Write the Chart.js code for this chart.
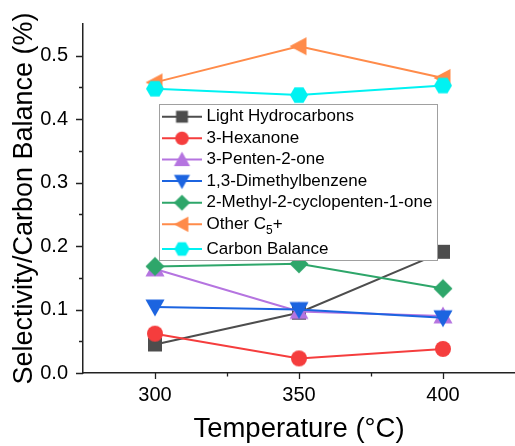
<!DOCTYPE html>
<html><head><meta charset="utf-8">
<script src="https://cdn.jsdelivr.net/npm/chart.js@4/dist/chart.umd.min.js"></script>
<style>html,body{margin:0;padding:0;background:#fff;}#wrap{width:515px;height:446px;position:relative;}</style>
</head><body><div id="wrap"><canvas id="c" width="515" height="446"></canvas></div>
<script>
// ---- data ----
const temperatures = [300, 350, 400];
const seriesNames = ['Light Hydrocarbons', '3-Hexanone', '3-Penten-2-one', '1,3-Dimethylbenzene',
  '2-Methyl-2-cyclopenten-1-one', 'Other C5+', 'Carbon Balance'];
const lightHydrocarbons = [0.045, 0.095, 0.191];
const hexanone = [0.062, 0.023, 0.038];
const pentenone = [0.164, 0.097, 0.090];
const dimethylbenzene = [0.104, 0.100, 0.087];
const methylcyclopentenone = [0.168, 0.172, 0.133];
const otherC5 = [0.458, 0.515, 0.465];
const carbonBalance = [0.448, 0.438, 0.453];
const xMajorTicks = [300, 350, 400];
const xMinorTicks = [325, 375];
const yMajorTicks = [0, 0.1, 0.2, 0.3, 0.4, 0.5];
const yMinorTicks = [0.05, 0.15, 0.25, 0.35, 0.45];

// ---- styles ----
const FONT = '"Liberation Sans", Arial, sans-serif';
const colors = ['#4d4d4d', '#f53d3d', '#b574e0', '#1c64e0', '#2ea66a', '#ff8b4a', '#00f2f2'];
const shapes = ['square', 'circle', 'triUp', 'triDown', 'diamond', 'triLeft', 'hexagon'];

function makeMarker(shape, color, scale) {
  const s = scale || 1;
  const size = Math.ceil(24 * s);
  const cv = document.createElement('canvas');
  cv.width = size; cv.height = size;
  const g = cv.getContext('2d');
  const c = size / 2;
  g.fillStyle = color;
  g.beginPath();
  if (shape === 'square') {
    const h = 7 * s; g.rect(c - h, c - h, 2 * h, 2 * h);
  } else if (shape === 'circle') {
    g.arc(c, c, 8 * s, 0, Math.PI * 2);
  } else if (shape === 'triUp') {
    const w = 9.5 * s, h = 8.5 * s;
    g.moveTo(c, c - h - 1 * s); g.lineTo(c + w, c + h - 1 * s); g.lineTo(c - w, c + h - 1 * s);
  } else if (shape === 'triDown') {
    const w = 9.5 * s, h = 8.5 * s;
    g.moveTo(c, c + h + 1 * s); g.lineTo(c + w, c - h + 1 * s); g.lineTo(c - w, c - h + 1 * s);
  } else if (shape === 'diamond') {
    const h = 9.5 * s;
    g.moveTo(c, c - h); g.lineTo(c + h, c); g.lineTo(c, c + h); g.lineTo(c - h, c);
  } else if (shape === 'triLeft') {
    const w = 8.5 * s, h = 9 * s;
    g.moveTo(c - w - 1 * s, c); g.lineTo(c + w - 1 * s, c - h); g.lineTo(c + w - 1 * s, c + h);
  } else if (shape === 'hexagon') {
    const r = 9 * s;
    for (let k = 0; k < 6; k++) {
      const a = Math.PI / 3 * k;
      const px = c + r * Math.cos(a), py = c + r * Math.sin(a);
      if (k === 0) g.moveTo(px, py); else g.lineTo(px, py);
    }
  }
  g.closePath();
  g.fill();
  return cv;
}

const seriesValues = [lightHydrocarbons, hexanone, pentenone, dimethylbenzene, methylcyclopentenone, otherC5, carbonBalance];

const datasets = seriesValues.map((vals, i) => ({
  label: seriesNames[i],
  data: temperatures.map((t, j) => ({ x: t, y: vals[j] })),
  borderColor: colors[i],
  backgroundColor: colors[i],
  borderWidth: 2,
  pointStyle: makeMarker(shapes[i], colors[i], 1),
  legendMarker: makeMarker(shapes[i], colors[i], 0.85),
  pointRadius: 9,
  pointHoverRadius: 9,
  order: 20 - i,
  clip: false,
  tension: 0
}));

const tickMarks = {
  id: 'tickMarks',
  afterDraw(chart) {
    const ctx = chart.ctx;
    const xs = chart.scales.x, ys = chart.scales.y;
    const ca = chart.chartArea;
    ctx.save();
    ctx.strokeStyle = '#222';
    ctx.lineWidth = 1.3;
    ctx.beginPath();
    xMajorTicks.forEach(v => { const p = Math.round(xs.getPixelForValue(v)) + 0.5; ctx.moveTo(p, ca.bottom); ctx.lineTo(p, ca.bottom + 6); });
    xMinorTicks.forEach(v => { const p = Math.round(xs.getPixelForValue(v)) + 0.5; ctx.moveTo(p, ca.bottom); ctx.lineTo(p, ca.bottom + 3.5); });
    yMajorTicks.forEach(v => { const p = Math.round(ys.getPixelForValue(v)) + 0.5; ctx.moveTo(ca.left, p); ctx.lineTo(ca.left - 7, p); });
    yMinorTicks.forEach(v => { const p = Math.round(ys.getPixelForValue(v)) + 0.5; ctx.moveTo(ca.left, p); ctx.lineTo(ca.left - 4, p); });
    ctx.stroke();
    ctx.restore();
  }
};

const boxLegend = {
  id: 'boxLegend',
  afterDatasetsDraw(chart) {
    const ctx = chart.ctx;
    const bx = 159.5, by = 104.5, bw = 278, bh = 156;
    ctx.save();
    ctx.fillStyle = '#fff';
    ctx.fillRect(bx, by, bw, bh);
    ctx.strokeStyle = '#a0a0a0';
    ctx.lineWidth = 1;
    ctx.strokeRect(bx, by, bw, bh);
    const rows = [116.7, 138.3, 159.6, 181.1, 202.7, 224.3, 249];
    chart.data.datasets.forEach((ds, i) => {
      const y = rows[i];
      ctx.strokeStyle = ds.borderColor;
      ctx.lineWidth = 2;
      ctx.beginPath();
      ctx.moveTo(162, y); ctx.lineTo(202, y);
      ctx.stroke();
      const m = ds.legendMarker;
      ctx.drawImage(m, 182 - m.width / 2, y - m.height / 2);
      ctx.fillStyle = '#000';
      ctx.font = '17px ' + FONT;
      ctx.textBaseline = 'middle';
      ctx.textAlign = 'left';
      const tx = 206.5;
      if (ds.label === 'Other C5+') {
        const a = 'Other C';
        ctx.fillText(a, tx, y);
        let w = ctx.measureText(a).width;
        ctx.font = '12px ' + FONT;
        ctx.fillText('5', tx + w, y + 6);
        w += ctx.measureText('5').width;
        ctx.font = '17px ' + FONT;
        ctx.fillText('+', tx + w, y);
      } else {
        ctx.fillText(ds.label, tx, y);
      }
    });
    ctx.restore();
  }
};

new Chart(document.getElementById('c'), {
  type: 'line',
  data: { datasets },
  options: {
    responsive: false,
    animation: false,
    devicePixelRatio: 1,
    layout: { autoPadding: false, padding: { top: 24, right: 0, left: 0, bottom: 0 } },
    plugins: { legend: { display: false }, tooltip: { enabled: false } },
    scales: {
      x: {
        type: 'linear', min: 275, max: 425,
        afterBuildTicks: s => { s.ticks = xMajorTicks.map(v => ({ value: v })); },
        afterFit: s => { s.height = 73; s.paddingLeft = 0; s.paddingRight = 0; },
        grid: { display: false, drawTicks: false, tickLength: 0 },
        border: { display: true, color: '#222', width: 1.5 },
        ticks: { color: '#000', font: { family: FONT, size: 20 }, padding: 10, maxRotation: 0, callback: v => String(v) },
        title: { display: true, text: 'Temperature (°C)', color: '#000', font: { family: FONT, size: 27.5 }, padding: { top: 0, bottom: 0 } }
      },
      y: {
        type: 'linear', min: 0, max: 0.55,
        afterBuildTicks: s => { s.ticks = yMajorTicks.map(v => ({ value: v })); },
        afterFit: s => { s.width = 83; s.paddingTop = 0; s.paddingBottom = 0; },
        grid: { display: false, drawTicks: false, tickLength: 0 },
        border: { display: true, color: '#222', width: 1.5 },
        ticks: { color: '#000', font: { family: FONT, size: 20 }, padding: 15, callback: v => Number(v).toFixed(1) },
        title: { display: true, text: 'Selectivity/Carbon Balance (%)', color: '#000', font: { family: FONT, size: 27 }, padding: { top: 8, bottom: 0 } }
      }
    }
  },
  plugins: [tickMarks, boxLegend]
});
</script>
</body></html>
